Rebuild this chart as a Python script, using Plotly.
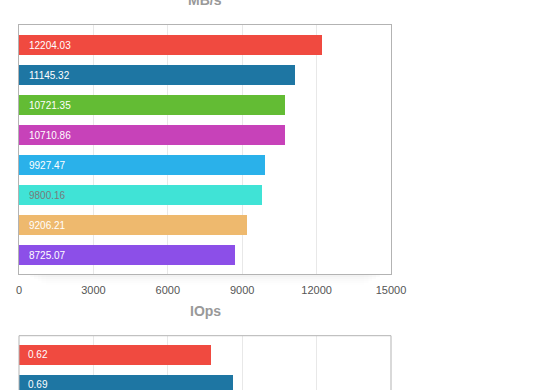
import plotly.graph_objects as go

# --- data ---
mbs_labels = ["12204.03", "11145.32", "10721.35", "10710.86", "9927.47", "9800.16", "9206.21", "8725.07"]
mbs_values = [12204.03, 11145.32, 10721.35, 10710.86, 9927.47, 9800.16, 9206.21, 8725.07]
iops_labels = ["0.62", "0.69"]
iops_values = [0.62, 0.69]
colors = ["#F04A40", "#1E76A3", "#63BC34", "#C742B9", "#2AB1EA", "#40E3D6", "#EEB96E", "#8C4FE8"]
text_colors = ["#FFFFFF", "#FFFFFF", "#FFFFFF", "#FFFFFF", "#FFFFFF", "#7A7A7A", "#FFFFFF", "#FFFFFF"]
mbs_ticks = [0, 3000, 6000, 9000, 12000, 15000]

H = 390.0
def py(px):
    return 1 - px / H

fig = go.Figure()
pos1 = list(range(len(mbs_values)))
fig.add_trace(go.Bar(x=mbs_values, y=pos1, orientation="h", width=0.667,
                     marker=dict(color=colors[:len(mbs_values)], line=dict(width=0)),
                     xaxis="x", yaxis="y", hoverinfo="skip"))
pos2 = list(range(len(iops_values)))
fig.add_trace(go.Bar(x=iops_values, y=pos2, orientation="h", width=0.667,
                     marker=dict(color=colors[:len(iops_values)], line=dict(width=0)),
                     xaxis="x2", yaxis="y2", hoverinfo="skip"))

ann = []
for i, (t, c) in enumerate(zip(mbs_labels, text_colors)):
    ann.append(dict(x=0, y=i, xref="x", yref="y", text=t, showarrow=False,
                    xanchor="left", xshift=8, font=dict(size=10, color=c, family="Liberation Sans")))
for i, t in enumerate(iops_labels):
    ann.append(dict(x=0, y=i, xref="x2", yref="y2", text=t, showarrow=False,
                    xanchor="left", xshift=7, font=dict(size=10, color=text_colors[i], family="Liberation Sans")))
ann.append(dict(x=0.5, y=py(-0.5), xref="paper", yref="paper", text="<b>MB/s</b>", showarrow=False,
                xanchor="center", yanchor="middle", font=dict(size=14, color="#999999", family="Liberation Sans")))
ann.append(dict(x=0.5, y=py(310.5), xref="paper", yref="paper", text="<b>IOps</b>", showarrow=False,
                xanchor="center", yanchor="middle", font=dict(size=14, color="#999999", family="Liberation Sans")))

shapes = []
# faint shadow under the top frame
for k, a in enumerate([0.018, 0.013, 0.009, 0.006, 0.004]):
    shapes.append(dict(type="rect", xref="x domain", yref="paper", x0=0.03 + 0.01 * k, x1=0.97 - 0.01 * k,
                       y0=py(275 + 2 * (k + 1)), y1=py(275), line=dict(width=0),
                       fillcolor="rgba(0,0,0,%g)" % a, layer="below"))
shapes.append(dict(type="rect", xref="x2 domain", yref="paper", x0=0, x1=1, y0=-0.3, y1=py(335.7),
                   line=dict(color="#B3B3B3", width=1), fillcolor="rgba(0,0,0,0)", layer="above"))

fig.update_layout(
    width=560, height=390,
    margin=dict(l=19, r=169, t=0, b=0),
    paper_bgcolor="white", plot_bgcolor="white",
    showlegend=False, bargap=0,
    annotations=ann, shapes=shapes,
    xaxis=dict(domain=[0, 1], range=[0, 15000], tickvals=mbs_ticks, ticktext=[str(v) for v in mbs_ticks],
               showgrid=True, gridcolor="#E8E8E8", gridwidth=1, zeroline=False,
               showline=True, mirror=True, linecolor="#B3B3B3", linewidth=1,
               ticks="", ticklabelstandoff=6,
               tickfont=dict(size=11, color="#555555", family="Liberation Sans"),
               anchor="y", fixedrange=True),
    yaxis=dict(domain=[py(274), py(25)], range=[7.633, -0.667], showticklabels=False,
               showgrid=False, zeroline=False, showline=True, mirror=True,
               linecolor="#B3B3B3", linewidth=1, ticks="", anchor="x"),
    xaxis2=dict(domain=[0, 1], range=[0, 1.2], dtick=0.24, showticklabels=False,
                showgrid=True, gridcolor="#E8E8E8", zeroline=False, showline=False,
                ticks="", anchor="y2"),
    yaxis2=dict(domain=[0, py(335.7)], range=[1.167, -0.643], showticklabels=False,
                showgrid=False, zeroline=False, showline=False, ticks="", anchor="x2"),
)

fig.write_html("out.html", config={"displayModeBar": False},
               post_script="document.body.style.margin='0';document.body.style.overflow='hidden';")
